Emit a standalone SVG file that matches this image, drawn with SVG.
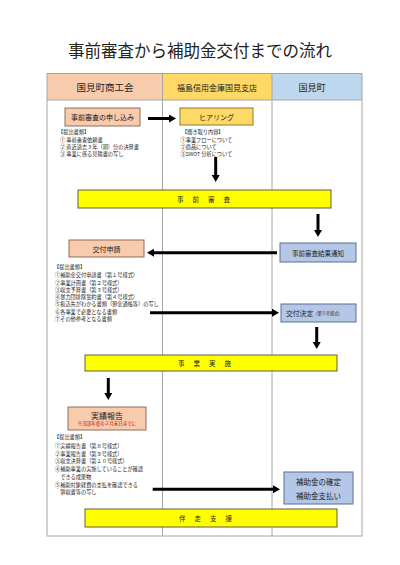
<svg xmlns="http://www.w3.org/2000/svg" width="400" height="565" viewBox="0 0 400 565">
<style>
text{font-family:"Noto Sans CJK JP","Noto Sans",sans-serif;fill:#222}
.c{text-anchor:middle;dominant-baseline:central}
.l{dominant-baseline:central;font-size:5.2px}
.grid{fill:none;stroke:#A6A6A6;stroke-width:1}
.sal{fill:#F8CBAD;stroke:#8B6F5E;stroke-width:1}
.gold{fill:#FFD966;stroke:#8C7A30;stroke-width:1}
.blu{fill:#B4C7E7;stroke:#5B6F94;stroke-width:1}
.bar{fill:#FFFF00;stroke:#5F5F3F;stroke-width:1}
.arr{stroke:#000;stroke-width:3;fill:none;marker-end:url(#ah)}
</style>
<defs>
<marker id="ah" markerUnits="userSpaceOnUse" markerWidth="7" markerHeight="8" refX="0.5" refY="4" orient="auto">
<path d="M0,0 L7,4 L0,8 z" fill="#000"/>
</marker>
</defs>
<rect width="400" height="565" fill="#fff"/>
<text class="c" x="200" y="50" font-size="16.5">事前審査から補助金交付までの流れ</text>

<g id="lanes">
<rect x="47" y="73.5" width="115.5" height="26.5" fill="#F8CBAD"/>
<rect x="162.5" y="73.5" width="109.5" height="26.5" fill="#FFD966"/>
<rect x="272" y="73.5" width="90" height="26.5" fill="#BDD7EE"/>
<rect class="grid" x="47" y="73.5" width="315" height="462.5"/>
<line class="grid" x1="47" y1="100" x2="362" y2="100"/>
<line class="grid" x1="162.5" y1="73.5" x2="162.5" y2="536"/>
<line class="grid" x1="272" y1="73.5" x2="272" y2="536"/>
<text class="c" x="105" y="87" font-size="9.5">国見町商工会</text>
<text class="c" x="217" y="87" font-size="8">福島信用金庫国見支店</text>
<text class="c" x="312" y="87" font-size="9">国見町</text>
</g>

<g id="n-apply">
<rect class="sal" x="65" y="108" width="75" height="18"/>
<text class="c" x="102.5" y="117" font-size="7">事前審査の申し込み</text>
<text class="l" x="58" y="131.5">【提出書類】</text>
<text class="l" x="60" y="139">①  事前審査依頼書</text>
<text class="l" x="60" y="146">②  直近過去３年（期）分の決算書</text>
<text class="l" x="60" y="153">③  事業に係る見積書の写し</text>
</g>

<g id="n-hearing">
<rect class="gold" x="180" y="108" width="73" height="17"/>
<text class="c" x="216.5" y="116.5" font-size="7">ヒアリング</text>
<text class="l" x="182" y="131.5">【聞き取り内容】</text>
<text class="l" x="180.5" y="139">①事業フローについて</text>
<text class="l" x="180.5" y="146">②商品について</text>
<text class="l" x="180.5" y="153">③SWOT 分析について</text>
</g>

<g id="n-pre">
<rect class="bar" x="78" y="190" width="253" height="18"/>
<text class="c" x="208" y="199" font-size="6.5" letter-spacing="9">事前審査</text>
</g>

<g id="n-notice">
<rect class="blu" x="280" y="243" width="76" height="19"/>
<text class="c" x="318" y="252.5" font-size="6.5">事前審査結果通知</text>
</g>

<g id="n-shinsei">
<rect class="sal" x="69" y="240" width="75" height="17"/>
<text class="c" x="106.5" y="248.5" font-size="7">交付申請</text>
<text class="l" x="54" y="266">【提出書類】</text>
<text class="l" x="55" y="274.5">①補助金交付申請書（第１号様式）</text>
<text class="l" x="55" y="282">②事業計画書（第２号様式）</text>
<text class="l" x="55" y="289.3">③収支予算書（第３号様式）</text>
<text class="l" x="55" y="296.6">④暴力団排除誓約書（第４号様式）</text>
<text class="l" x="55" y="303.9">⑤振込先がわかる書類（預金通帳等）の写し</text>
<text class="l" x="55" y="311.2">⑥各事業で必要となる書類</text>
<text class="l" x="55" y="318.5">⑦その他参考となる書類</text>
</g>

<g id="n-kettei">
<rect class="blu" x="281" y="304" width="75" height="18"/>
<text x="286" y="313" font-size="6.8" dominant-baseline="central">交付決定<tspan font-size="4.2">（第５号様式）</tspan></text>
</g>

<g id="n-jisshi">
<rect class="bar" x="85" y="355" width="252" height="16"/>
<text class="c" x="209" y="363" font-size="6.5" letter-spacing="9">事業実施</text>
</g>

<g id="n-jisseki">
<rect class="sal" x="68" y="407" width="78" height="23"/>
<text class="c" x="107" y="415" font-size="8">実績報告</text>
<text class="c" x="107" y="423" font-size="4.5" style="fill:#C00000">※当該年度の２月末日までに</text>
<text class="l" x="54" y="436.5">【提出書類】</text>
<text class="l" x="55" y="445.5">①実績報告書（第８号様式）</text>
<text class="l" x="55" y="453.2">②事業報告書（第９号様式）</text>
<text class="l" x="55" y="460.9">③収支決算書（第１０号様式）</text>
<text class="l" x="55" y="468.6">④補助事業の実施していることが確認</text>
<text class="l" x="55" y="476.3">　できる成果物</text>
<text class="l" x="55" y="484">⑤補助対象経費の支払を確認できる</text>
<text class="l" x="55" y="491.7">　領収書等の写し</text>
</g>

<g id="n-kakutei">
<rect class="blu" x="284" y="472" width="69" height="32"/>
<text class="c" x="318.5" y="481" font-size="7.5">補助金の確定</text>
<text class="c" x="318.5" y="495" font-size="7.5">補助金支払い</text>
</g>

<g id="n-bansou">
<rect class="bar" x="85" y="509" width="252" height="18"/>
<text class="c" x="210" y="518" font-size="6.5" letter-spacing="9">伴走支援</text>
</g>

<g id="connectors">
<line class="arr" x1="148" y1="118.5" x2="169.5" y2="118.5"/>
<line class="arr" x1="215.7" y1="157" x2="215.7" y2="175.5"/>
<line class="arr" x1="318" y1="214" x2="318" y2="230.5"/>
<line class="arr" x1="277" y1="252.7" x2="153.5" y2="252.7"/>
<line class="arr" x1="150" y1="312.7" x2="272.5" y2="312.7"/>
<line class="arr" x1="316.7" y1="327" x2="316.7" y2="342.5"/>
<line class="arr" x1="108.3" y1="378" x2="108.3" y2="393.5"/>
<line class="arr" x1="152.7" y1="489.3" x2="273.5" y2="489.3"/>
</g>
</svg>
